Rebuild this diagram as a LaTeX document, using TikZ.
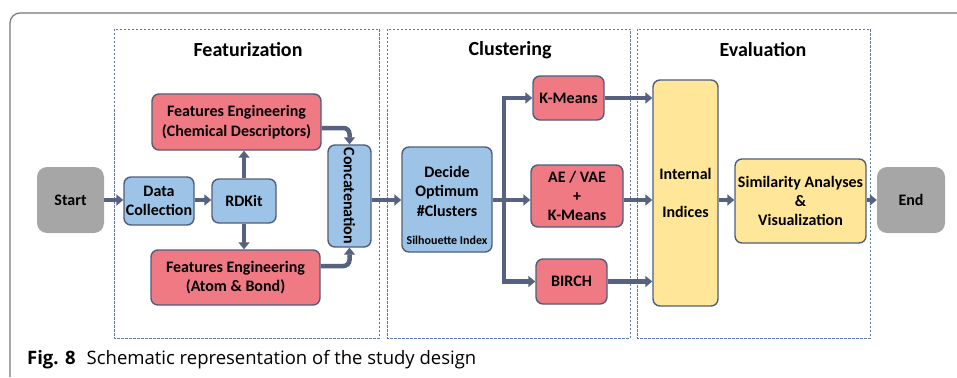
\documentclass[tikz,border=0pt]{standalone}
\usepackage{fontspec}
\setmainfont{Carlito}
\newfontfamily\capfont{Open Sans}
\usetikzlibrary{arrows.meta}
\definecolor{bfill}{HTML}{9DC3E6}
\definecolor{rfill}{HTML}{F07A83}
\definecolor{yfill}{HTML}{FFE699}
\definecolor{gfill}{HTML}{A6A6A6}
\definecolor{bord}{HTML}{4F5E7E}
\definecolor{arrc}{HTML}{56627F}
\definecolor{dashc}{HTML}{5A78A8}
\definecolor{framec}{HTML}{777777}
\tikzset{
  box/.style={draw=bord, line width=1.4pt, rounded corners=7pt, align=center,
    font=\bfseries\fontsize{16}{19.3}\selectfont, inner sep=1pt},
  bluebox/.style={box, fill=bfill},
  redbox/.style={box, fill=rfill},
  yelbox/.style={box, fill=yfill},
  graybox/.style={rounded corners=10pt, fill=gfill, align=center,
    font=\bfseries\fontsize{16}{19}\selectfont},
  arr/.style={draw=arrc, line width=4.5pt, -{Triangle[length=7pt,width=11pt]}},
  phase/.style={draw=dashc, line width=0.9pt, dash pattern=on 2.5pt off 1.5pt},
  phasetitle/.style={font=\bfseries\fontsize{20}{24}\selectfont},
}
\begin{document}
\begin{tikzpicture}[x=1pt,y=-1pt]
\useasboundingbox (0,0) rectangle (957,377);
% outer frame
\draw[framec, line width=1.2pt, rounded corners=10pt] (10,377) -- (10,13) -- (957,13);
% phase frames
\draw[phase] (114,29) rectangle (379,338);
\draw[phase] (387,29) rectangle (630,338);
\draw[phase] (637,29) rectangle (870,338);
\node[phasetitle] (t1) at (248,50) {Featurization};
\node[phasetitle] (t2) at (510,50) {Clustering};
\node[phasetitle] (t3) at (763,50) {Evaluation};
% nodes
\node[graybox, minimum width=67pt, minimum height=66pt] (start) at (70.5,200) {Start};
\node[bluebox, minimum width=70pt, minimum height=48pt] (dc) at (159,201) {Data\\Collection};
\node[bluebox, minimum width=64pt, minimum height=44pt] (rd) at (244,201) {RDKit};
\node[redbox, minimum width=169pt, minimum height=56pt] (fec) at (236.5,122) {Features Engineering\\(Chemical Descriptors)};
\node[redbox, minimum width=169pt, minimum height=55pt] (fea) at (235.5,277.5) {Features Engineering\\(Atom \& Bond)};
\node[bluebox, minimum width=43pt, minimum height=102pt] (cc) at (349.5,196) {};
\node[rotate=-90, font=\bfseries\fontsize{16}{19}\selectfont] (cct) at (cc.center) {Concatenation};
\node[bluebox, minimum width=90pt, minimum height=105pt] (dec) at (447,199.5) {};
\node[font=\bfseries\fontsize{16}{19.5}\selectfont, align=center] (dect) at (447,191) {Decide\\Optimum\\\#Clusters};
\node[font=\bfseries\fontsize{12}{14}\selectfont] (sil) at (447,240) {Silhouette Index};
\node[redbox, minimum width=71pt, minimum height=44pt] (km) at (568.5,98) {K-Means};
\node[redbox, minimum width=92pt, minimum height=62pt] (ae) at (577,196) {AE / VAE\\+\\K-Means};
\node[redbox, minimum width=71pt, minimum height=45pt] (bi) at (571.5,281.5) {BIRCH};
\node[yelbox, minimum width=65pt, minimum height=226pt] (ii) at (685.5,193) {Internal\\[19pt]Indices};
\node[yelbox, minimum width=131pt, minimum height=84pt] (sim) at (800.5,201) {Similarity Analyses\\\&\\Visualization};
\node[graybox, minimum width=68pt, minimum height=66pt] (end) at (911,200) {End};
% connectors
\draw[arr] (start.east |- 0,200) -- (dc.west |- 0,200);
\draw[arr] (dc.east |- 0,200) -- (rd.west |- 0,200);
\draw[arr] (rd.north) -- (rd.north |- fec.south);
\draw[arr] (rd.south) -- (rd.south |- fea.north);
\draw[arr, rounded corners=6pt] (fec.east |- 0,128) -- (cc.north |- 0,128) -- (cc.north);
\draw[arr, rounded corners=6pt] (fea.east |- 0,266) -- (cc.south |- 0,266) -- (cc.south);
\draw[arr] (cc.east |- 0,200) -- (dec.west |- 0,200);
\coordinate (trunk) at (504,200);
\draw[arr] (dec.east |- 0,200) -- (ae.west |- 0,200);
\draw[arr] (trunk) |- (km.west);
\draw[arr] (trunk) |- (bi.west);
\draw[arr] (km.east) -- (km.east -| ii.west);
\draw[arr] (ae.east |- 0,200) -- (ii.west |- 0,200);
\draw[arr] (bi.east) -- (bi.east -| ii.west);
\draw[arr] (ii.east |- 0,200) -- (sim.west |- 0,200);
\draw[arr] (sim.east |- 0,200) -- (end.west |- 0,200);
% caption
\node[anchor=base west, font=\capfont\fontsize{18.5}{22}\selectfont, inner sep=0pt] (cap) at (27,364) {\textbf{Fig. 8}\hspace{11pt}Schematic representation of the study design};
\end{tikzpicture}
\end{document}
